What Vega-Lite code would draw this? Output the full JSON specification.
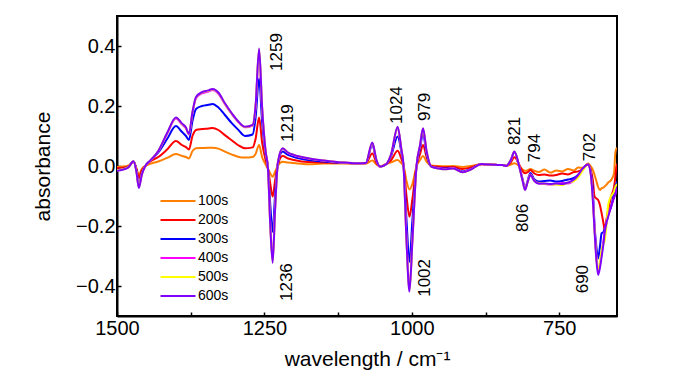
{
  "$schema": "https://vega.github.io/schema/vega-lite/v6.json",
  "autosize": {"type": "none"},
  "padding": {"left": 117, "top": 16, "right": 83, "bottom": 58},
  "width": 500,
  "height": 300,
  "config": {
    "font": "Liberation Sans",
    "view": {"stroke": "black", "strokeWidth": 2},
    "axis": {
      "domainColor": "black", "domainWidth": 2, "tickColor": "black", "tickWidth": 1.5,
      "labelFont": "Liberation Sans", "titleFont": "Liberation Sans",
      "labelColor": "black", "titleColor": "black", "grid": false, "titleFontWeight": "normal"
    }
  },
  "datasets": {
    "spectra": [
      {"wn":1500,"100s":-0.003,"200s":-0.007,"300s":-0.013,"400s":-0.015,"500s":-0.014,"600s":-0.016},
      {"wn":1490,"100s":-0.002,"200s":-0.006,"300s":-0.010,"400s":-0.011,"500s":-0.011,"600s":-0.012},
      {"wn":1480,"100s":0.002,"200s":0.0,"300s":-0.002,"400s":-0.003,"500s":-0.003,"600s":-0.003},
      {"wn":1472,"100s":0.014,"200s":0.015,"300s":0.016,"400s":0.016,"500s":0.016,"600s":0.016},
      {"wn":1467,"100s":-0.008,"200s":-0.01,"300s":-0.015,"400s":-0.018,"500s":-0.019,"600s":-0.02},
      {"wn":1463,"100s":-0.03,"200s":-0.04,"300s":-0.065,"400s":-0.07,"500s":-0.071,"600s":-0.073},
      {"wn":1458,"100s":-0.01,"200s":-0.015,"300s":-0.025,"400s":-0.028,"500s":-0.029,"600s":-0.03},
      {"wn":1452,"100s":0.0,"200s":0.0,"300s":0.0,"400s":0.0,"500s":0.0,"600s":0.0},
      {"wn":1444,"100s":0.007,"200s":0.015,"300s":0.017,"400s":0.017,"500s":0.017,"600s":0.017},
      {"wn":1430,"100s":0.015,"200s":0.03,"300s":0.045,"400s":0.049,"500s":0.05,"600s":0.05},
      {"wn":1415,"100s":0.027,"200s":0.055,"300s":0.09,"400s":0.107,"500s":0.109,"600s":0.11},
      {"wn":1400,"100s":0.04,"200s":0.083,"300s":0.133,"400s":0.158,"500s":0.161,"600s":0.162},
      {"wn":1390,"100s":0.034,"200s":0.07,"300s":0.114,"400s":0.139,"500s":0.141,"600s":0.142},
      {"wn":1383,"100s":0.03,"200s":0.063,"300s":0.1,"400s":0.125,"500s":0.127,"600s":0.128},
      {"wn":1378,"100s":0.025,"200s":0.055,"300s":0.087,"400s":0.105,"500s":0.106,"600s":0.107},
      {"wn":1372,"100s":0.05,"200s":0.1,"300s":0.15,"400s":0.177,"500s":0.179,"600s":0.18},
      {"wn":1366,"100s":0.059,"200s":0.12,"300s":0.19,"400s":0.226,"500s":0.229,"600s":0.23},
      {"wn":1356,"100s":0.06,"200s":0.123,"300s":0.2,"400s":0.242,"500s":0.245,"600s":0.246},
      {"wn":1345,"100s":0.061,"200s":0.125,"300s":0.204,"400s":0.248,"500s":0.251,"600s":0.252},
      {"wn":1338,"100s":0.061,"200s":0.127,"300s":0.207,"400s":0.253,"500s":0.256,"600s":0.257},
      {"wn":1328,"100s":0.058,"200s":0.12,"300s":0.195,"400s":0.241,"500s":0.244,"600s":0.245},
      {"wn":1317,"100s":0.048,"200s":0.103,"300s":0.17,"400s":0.206,"500s":0.208,"600s":0.209},
      {"wn":1305,"100s":0.038,"200s":0.085,"300s":0.142,"400s":0.172,"500s":0.174,"600s":0.175},
      {"wn":1295,"100s":0.031,"200s":0.07,"300s":0.122,"400s":0.148,"500s":0.149,"600s":0.15},
      {"wn":1283,"100s":0.028,"200s":0.059,"300s":0.1,"400s":0.129,"500s":0.13,"600s":0.131},
      {"wn":1270,"100s":0.03,"200s":0.062,"300s":0.105,"400s":0.135,"500s":0.136,"600s":0.137},
      {"wn":1265,"100s":0.04,"200s":0.09,"300s":0.16,"400s":0.196,"500s":0.198,"600s":0.2},
      {"wn":1259,"100s":0.07,"200s":0.162,"300s":0.292,"400s":0.385,"500s":0.39,"600s":0.392},
      {"wn":1254,"100s":0.03,"200s":0.08,"300s":0.15,"400s":0.195,"500s":0.198,"600s":0.2},
      {"wn":1248,"100s":0.005,"200s":0.02,"300s":0.04,"400s":0.048,"500s":0.049,"600s":0.05},
      {"wn":1244,"100s":-0.01,"200s":-0.007,"300s":-0.007,"400s":-0.007,"500s":-0.007,"600s":-0.007},
      {"wn":1240,"100s":-0.025,"200s":-0.06,"300s":-0.13,"400s":-0.195,"500s":-0.198,"600s":-0.2},
      {"wn":1236,"100s":-0.036,"200s":-0.102,"300s":-0.219,"400s":-0.315,"500s":-0.32,"600s":-0.323},
      {"wn":1232,"100s":-0.02,"200s":-0.05,"300s":-0.1,"400s":-0.146,"500s":-0.148,"600s":-0.15},
      {"wn":1227,"100s":0.002,"200s":0.005,"300s":0.01,"400s":0.013,"500s":0.014,"600s":0.014},
      {"wn":1219,"100s":0.014,"200s":0.033,"300s":0.048,"400s":0.057,"500s":0.058,"600s":0.059},
      {"wn":1210,"100s":0.012,"200s":0.025,"300s":0.037,"400s":0.044,"500s":0.045,"600s":0.045},
      {"wn":1200,"100s":0.01,"200s":0.02,"300s":0.03,"400s":0.036,"500s":0.037,"600s":0.037},
      {"wn":1176,"100s":0.006,"200s":0.013,"300s":0.02,"400s":0.025,"500s":0.026,"600s":0.026},
      {"wn":1150,"100s":0.008,"200s":0.012,"300s":0.015,"400s":0.018,"500s":0.018,"600s":0.018},
      {"wn":1120,"100s":0.008,"200s":0.01,"300s":0.011,"400s":0.012,"500s":0.012,"600s":0.012},
      {"wn":1094,"100s":0.008,"200s":0.009,"300s":0.009,"400s":0.009,"500s":0.009,"600s":0.009},
      {"wn":1078,"100s":0.008,"200s":0.009,"300s":0.01,"400s":0.01,"500s":0.01,"600s":0.01},
      {"wn":1067,"100s":0.018,"200s":0.042,"300s":0.07,"400s":0.076,"500s":0.077,"600s":0.078},
      {"wn":1060,"100s":0.005,"200s":0.01,"300s":0.018,"400s":0.019,"500s":0.02,"600s":0.02},
      {"wn":1054,"100s":-0.001,"200s":-0.002,"300s":-0.002,"400s":-0.002,"500s":-0.002,"600s":-0.002},
      {"wn":1043,"100s":0.007,"200s":0.007,"300s":0.007,"400s":0.007,"500s":0.007,"600s":0.007},
      {"wn":1035,"100s":0.012,"200s":0.02,"300s":0.035,"400s":0.039,"500s":0.04,"600s":0.04},
      {"wn":1024,"100s":0.02,"200s":0.051,"300s":0.098,"400s":0.128,"500s":0.13,"600s":0.131},
      {"wn":1018,"100s":0.01,"200s":0.025,"300s":0.05,"400s":0.058,"500s":0.059,"600s":0.06},
      {"wn":1014,"100s":0.0,"200s":0.0,"300s":0.0,"400s":0.0,"500s":0.0,"600s":0.0},
      {"wn":1009,"100s":-0.05,"200s":-0.1,"300s":-0.18,"400s":-0.245,"500s":-0.248,"600s":-0.25},
      {"wn":1004,"100s":-0.078,"200s":-0.169,"300s":-0.319,"400s":-0.41,"500s":-0.415,"600s":-0.419},
      {"wn":999,"100s":-0.06,"200s":-0.11,"300s":-0.18,"400s":-0.245,"500s":-0.248,"600s":-0.25},
      {"wn":992,"100s":0.0,"200s":0.0,"300s":0.0,"400s":0.0,"500s":0.0,"600s":0.0},
      {"wn":986,"100s":0.02,"200s":0.04,"300s":0.06,"400s":0.068,"500s":0.069,"600s":0.07},
      {"wn":981,"100s":0.033,"200s":0.07,"300s":0.109,"400s":0.123,"500s":0.125,"600s":0.126},
      {"wn":975,"100s":0.015,"200s":0.03,"300s":0.04,"400s":0.048,"500s":0.049,"600s":0.05},
      {"wn":967,"100s":0.002,"200s":0.0,"300s":-0.002,"400s":-0.002,"500s":-0.002,"600s":-0.002},
      {"wn":955,"100s":0.0,"200s":-0.003,"300s":-0.006,"400s":-0.007,"500s":-0.008,"600s":-0.008},
      {"wn":941,"100s":-0.001,"200s":-0.004,"300s":-0.008,"400s":-0.01,"500s":-0.011,"600s":-0.011},
      {"wn":930,"100s":0.0,"200s":-0.003,"300s":-0.006,"400s":-0.007,"500s":-0.008,"600s":-0.008},
      {"wn":914,"100s":-0.003,"200s":-0.01,"300s":-0.018,"400s":-0.02,"500s":-0.021,"600s":-0.021},
      {"wn":900,"100s":0.0,"200s":-0.005,"300s":-0.01,"400s":-0.011,"500s":-0.012,"600s":-0.012},
      {"wn":882,"100s":0.006,"200s":0.006,"300s":0.007,"400s":0.007,"500s":0.007,"600s":0.007},
      {"wn":860,"100s":0.004,"200s":0.004,"300s":0.004,"400s":0.004,"500s":0.004,"600s":0.004},
      {"wn":846,"100s":0.003,"200s":0.003,"300s":0.003,"400s":0.003,"500s":0.003,"600s":0.003},
      {"wn":840,"100s":0.0,"200s":0.0,"300s":0.0,"400s":0.0,"500s":0.0,"600s":0.0},
      {"wn":832,"100s":0.005,"200s":0.012,"300s":0.02,"400s":0.02,"500s":0.02,"600s":0.02},
      {"wn":826,"100s":0.009,"200s":0.029,"300s":0.046,"400s":0.047,"500s":0.048,"600s":0.048},
      {"wn":818,"100s":0.0,"200s":0.005,"300s":0.0,"400s":0.0,"500s":0.0,"600s":0.0},
      {"wn":812,"100s":-0.012,"200s":-0.018,"300s":-0.045,"400s":-0.048,"500s":-0.049,"600s":-0.05},
      {"wn":808,"100s":-0.016,"200s":-0.024,"300s":-0.074,"400s":-0.078,"500s":-0.079,"600s":-0.08},
      {"wn":803,"100s":-0.014,"200s":-0.02,"300s":-0.045,"400s":-0.048,"500s":-0.049,"600s":-0.05},
      {"wn":799,"100s":-0.01,"200s":-0.013,"300s":-0.023,"400s":-0.028,"500s":-0.029,"600s":-0.03},
      {"wn":792,"100s":-0.016,"200s":-0.025,"300s":-0.045,"400s":-0.05,"500s":-0.05,"600s":-0.05},
      {"wn":785,"100s":-0.02,"200s":-0.03,"300s":-0.052,"400s":-0.058,"500s":-0.057,"600s":-0.058},
      {"wn":775,"100s":-0.012,"200s":-0.028,"300s":-0.05,"400s":-0.06,"500s":-0.059,"600s":-0.058},
      {"wn":765,"100s":-0.022,"200s":-0.032,"300s":-0.048,"400s":-0.062,"500s":-0.061,"600s":-0.06},
      {"wn":755,"100s":-0.015,"200s":-0.03,"300s":-0.052,"400s":-0.06,"500s":-0.062,"600s":-0.058},
      {"wn":745,"100s":-0.018,"200s":-0.025,"300s":-0.05,"400s":-0.057,"500s":-0.064,"600s":-0.06},
      {"wn":735,"100s":-0.01,"200s":-0.028,"300s":-0.045,"400s":-0.058,"500s":-0.055,"600s":-0.055},
      {"wn":725,"100s":-0.015,"200s":-0.02,"300s":-0.04,"400s":-0.048,"500s":-0.05,"600s":-0.045},
      {"wn":718,"100s":-0.005,"200s":-0.018,"300s":-0.03,"400s":-0.035,"500s":-0.038,"600s":-0.03},
      {"wn":710,"100s":-0.006,"200s":-0.01,"300s":-0.01,"400s":-0.012,"500s":-0.015,"600s":-0.008},
      {"wn":701,"100s":0.008,"200s":0.006,"300s":0.005,"400s":0.005,"500s":0.005,"600s":0.005},
      {"wn":697,"100s":0.0,"200s":-0.01,"300s":-0.015,"400s":-0.018,"500s":-0.019,"600s":-0.02},
      {"wn":693,"100s":-0.013,"200s":-0.047,"300s":-0.08,"400s":-0.105,"500s":-0.11,"600s":-0.113},
      {"wn":690,"100s":-0.03,"200s":-0.102,"300s":-0.2,"400s":-0.21,"500s":-0.215,"600s":-0.22},
      {"wn":687,"100s":-0.05,"200s":-0.108,"300s":-0.269,"400s":-0.3,"500s":-0.305,"600s":-0.313},
      {"wn":684,"100s":-0.07,"200s":-0.113,"300s":-0.308,"400s":-0.35,"500s":-0.355,"600s":-0.363},
      {"wn":681,"100s":-0.08,"200s":-0.13,"300s":-0.27,"400s":-0.33,"500s":-0.32,"600s":-0.34},
      {"wn":678,"100s":-0.074,"200s":-0.158,"300s":-0.224,"400s":-0.29,"500s":-0.28,"600s":-0.302},
      {"wn":675,"100s":-0.072,"200s":-0.19,"300s":-0.22,"400s":-0.25,"500s":-0.26,"600s":-0.26},
      {"wn":673,"100s":-0.068,"200s":-0.213,"300s":-0.21,"400s":-0.22,"500s":-0.25,"600s":-0.224},
      {"wn":670,"100s":-0.063,"200s":-0.18,"300s":-0.191,"400s":-0.19,"500s":-0.2,"600s":-0.19},
      {"wn":667,"100s":-0.055,"200s":-0.147,"300s":-0.16,"400s":-0.165,"500s":-0.13,"600s":-0.169},
      {"wn":662,"100s":-0.047,"200s":-0.102,"300s":-0.136,"400s":-0.135,"500s":-0.1,"600s":-0.136},
      {"wn":657,"100s":-0.024,"200s":-0.07,"300s":-0.09,"400s":-0.105,"500s":-0.085,"600s":-0.105},
      {"wn":655,"100s":0.04,"200s":-0.04,"300s":-0.07,"400s":-0.095,"500s":-0.07,"600s":-0.095},
      {"wn":653,"100s":0.058,"200s":-0.002,"300s":-0.058,"400s":-0.08,"500s":-0.063,"600s":-0.08},
      {"wn":650,"100s":0.06,"200s":0.01,"300s":-0.05,"400s":-0.07,"500s":-0.06,"600s":-0.07}
    ],
    "peaks": [
      {"label":"1259","wn":1229,"a":0.38},
      {"label":"1219","wn":1210,"a":0.143},
      {"label":"1236","wn":1212,"a":-0.387},
      {"label":"1024","wn":1025,"a":0.203},
      {"label":"979","wn":978,"a":0.197},
      {"label":"1002","wn":977,"a":-0.373},
      {"label":"821","wn":825,"a":0.117},
      {"label":"794","wn":791,"a":0.06},
      {"label":"806","wn":812,"a":-0.173},
      {"label":"702","wn":698,"a":0.063},
      {"label":"690","wn":710,"a":-0.377}
    ]
  },
  "layer": [
    {
      "data": {"name": "spectra"},
      "transform": [{"fold": ["100s","200s","300s","400s","500s","600s"], "as": ["time","a"]}],
      "mark": {"type": "line", "strokeWidth": 2, "interpolate": "monotone", "clip": true},
      "encoding": {
        "x": {
          "field": "wn", "type": "quantitative",
          "scale": {"domain": [652, 1500], "reverse": true, "nice": false, "zero": false},
          "axis": {
            "values": [1500, 1375, 1250, 1125, 1000, 875, 750],
            "labelExpr": "datum.value % 250 == 0 ? datum.label : ''",
            "labelFlush": false, "labelOverlap": false,
            "format": "d", "tickSize": -4, "labelPadding": 6, "labelFontSize": 20,
            "title": "wavelength / cm⁻¹", "titleFontSize": 21, "titlePadding": 10
          }
        },
        "y": {
          "field": "a", "type": "quantitative",
          "scale": {"domain": [-0.5, 0.5], "nice": false},
          "axis": {
            "values": [-0.4, -0.3, -0.2, -0.1, 0, 0.1, 0.2, 0.3, 0.4],
            "labelExpr": "abs(round(datum.value*10)) % 2 == 0 ? format(datum.value, '.1f') : ''",
            "labelFlush": false, "labelOverlap": false,
            "tickSize": -4, "labelPadding": 6, "labelFontSize": 20,
            "title": "absorbance", "titleFontSize": 21, "titlePadding": 22
          }
        },
        "color": {
          "field": "time", "type": "nominal",
          "scale": {"domain": ["100s","200s","300s","400s","500s","600s"], "range": ["#FF8000","#FF0000","#0000FF","#FF00FF","#FFFF00","#8000FF"]},
          "legend": {
            "title": null, "orient": "none", "legendX": 53, "legendY": 177,
            "symbolType": "M-2.5,0H2.5", "symbolSize": 196, "symbolStrokeWidth": 2,
            "labelFontSize": 14, "labelOffset": 12, "rowPadding": 4, "labelColor": "black",
            "labelFont": "Liberation Sans"
          }
        }
      }
    },
    {
      "data": {"name": "peaks"},
      "mark": {"type": "text", "angle": 270, "fontSize": 17, "font": "Liberation Sans", "color": "black", "align": "center", "baseline": "middle"},
      "encoding": {
        "x": {"field": "wn", "type": "quantitative"},
        "y": {"field": "a", "type": "quantitative"},
        "text": {"field": "label"}
      }
    }
  ]
}
